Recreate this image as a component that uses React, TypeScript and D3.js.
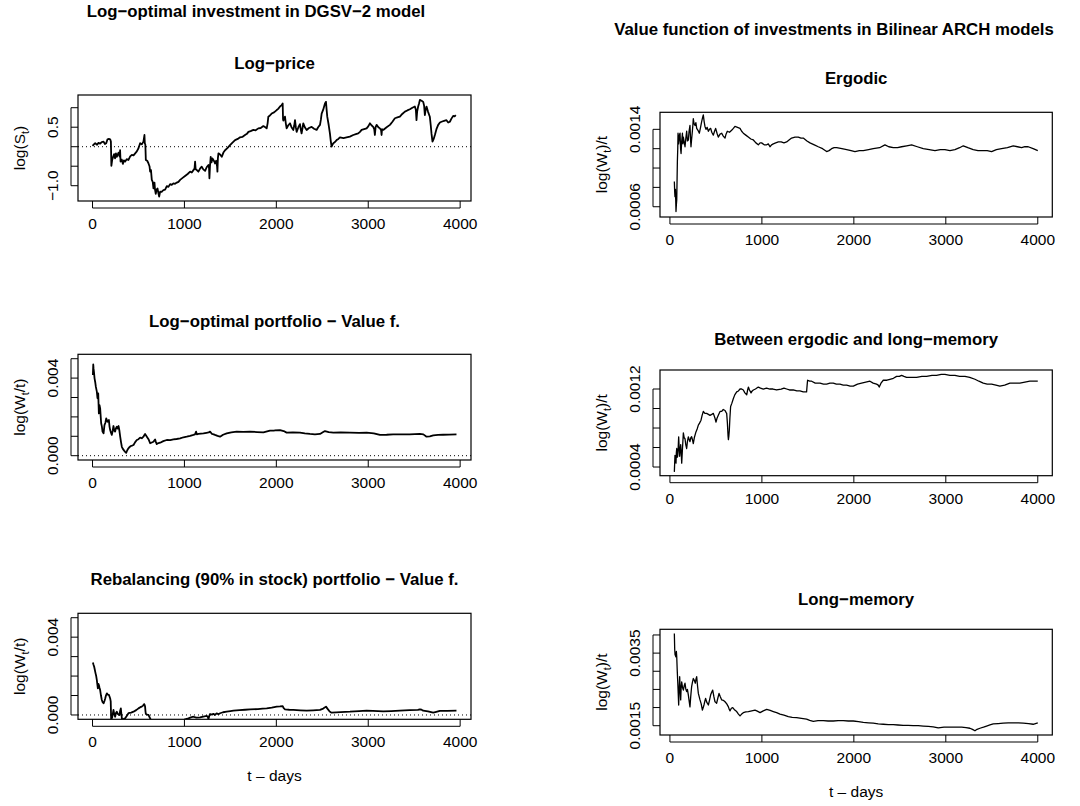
import React from "react";
import * as d3 from "d3";

// ---------- data ----------
// Log-price  [t, log(S_t)]
const logPrice: [number, number][] = [
  [0,0.02],[15,0.06],[29,0.09],[50,0.05],[65,0.1],[83,0.08],[100,0.12],[120,0.13],[135,0.07],[149,0.09],[163,0.19],[178,0.2],[192,0.19],[200,0.13],[205,-0.49],[214,-0.34],[225,-0.25],[235,-0.19],[245,-0.3],[255,-0.17],[264,-0.26],[283,-0.15],[295,-0.25],[300,-0.09],[305,-0.38],[318,-0.33],[330,-0.44],[342,-0.35],[355,-0.38],[372,-0.32],[391,-0.34],[410,-0.25],[428,-0.21],[446,-0.22],[464,-0.17],[482,-0.12],[500,-0.04],[518,0.09],[536,0.06],[554,0.13],[565,0.3],[569,0.09],[575,0.05],[580,-0.34],[595,-0.36],[609,-0.43],[620,-0.5],[627,-0.64],[636,-0.6],[645,-0.85],[655,-0.9],[663,-1.07],[674,-0.92],[680,-1.1],[688,-1.21],[697,-1.1],[707,-1.07],[716,-1.18],[725,-1.28],[736,-1.15],[752,-1.16],[772,-1.11],[790,-1.1],[808,-1.01],[826,-1.03],[844,-0.96],[862,-0.98],[880,-0.94],[898,-0.95],[917,-0.92],[935,-0.9],[953,-0.85],[980,-0.8],[1007,-0.75],[1035,-0.7],[1062,-0.64],[1080,-0.66],[1098,-0.6],[1110,-0.56],[1116,-0.38],[1122,-0.58],[1135,-0.6],[1152,-0.64],[1170,-0.56],[1188,-0.51],[1205,-0.58],[1225,-0.62],[1243,-0.52],[1261,-0.47],[1268,-0.55],[1272,-0.81],[1278,-0.5],[1286,-0.26],[1295,-0.4],[1305,-0.3],[1315,-0.34],[1325,-0.38],[1333,-0.43],[1345,-0.36],[1355,-0.5],[1359,-0.64],[1364,-0.3],[1370,-0.17],[1388,-0.2],[1406,-0.26],[1424,-0.15],[1442,-0.09],[1470,-0.03],[1496,0.04],[1520,0.1],[1551,0.17],[1580,0.2],[1605,0.24],[1630,0.25],[1659,0.3],[1680,0.33],[1696,0.38],[1720,0.4],[1750,0.43],[1775,0.42],[1804,0.47],[1830,0.48],[1859,0.53],[1880,0.5],[1895,0.47],[1905,0.6],[1913,0.77],[1930,0.8],[1949,0.85],[1975,0.88],[2004,0.94],[2020,0.97],[2040,1.03],[2055,1.06],[2069,1.11],[2073,0.7],[2076,0.67],[2085,0.72],[2094,0.77],[2103,0.6],[2112,0.47],[2130,0.55],[2149,0.6],[2165,0.5],[2185,0.43],[2195,0.55],[2203,0.68],[2212,0.5],[2221,0.38],[2240,0.5],[2257,0.58],[2265,0.45],[2275,0.34],[2285,0.48],[2293,0.6],[2310,0.5],[2330,0.43],[2355,0.48],[2384,0.51],[2410,0.46],[2438,0.43],[2455,0.5],[2475,0.56],[2485,0.7],[2493,0.85],[2510,0.95],[2529,1.11],[2540,1.15],[2547,0.95],[2554,0.77],[2570,0.55],[2583,0.34],[2592,0.15],[2601,0.0],[2610,0.05],[2620,0.09],[2638,0.12],[2656,0.17],[2675,0.2],[2692,0.24],[2730,0.22],[2764,0.24],[2800,0.26],[2837,0.3],[2865,0.32],[2891,0.34],[2910,0.38],[2928,0.43],[2955,0.45],[2982,0.47],[3000,0.52],[3018,0.6],[3035,0.55],[3054,0.51],[3065,0.45],[3072,0.3],[3080,0.5],[3091,0.56],[3110,0.5],[3127,0.47],[3140,0.42],[3145,0.3],[3150,0.45],[3163,0.43],[3200,0.5],[3236,0.56],[3263,0.64],[3290,0.73],[3317,0.75],[3344,0.77],[3370,0.84],[3399,0.9],[3425,0.93],[3453,0.96],[3480,1.0],[3507,1.03],[3518,0.95],[3525,0.68],[3532,0.9],[3543,1.03],[3552,1.1],[3562,1.2],[3580,1.18],[3598,1.15],[3608,1.05],[3616,0.81],[3625,0.95],[3634,1.03],[3650,0.9],[3670,0.77],[3680,0.55],[3688,0.34],[3699,0.13],[3712,0.2],[3725,0.3],[3742,0.45],[3761,0.56],[3780,0.62],[3797,0.64],[3825,0.66],[3851,0.68],[3870,0.62],[3888,0.64],[3905,0.72],[3924,0.79],[3940,0.78],[3953,0.81]
];

// Log-optimal portfolio value function  [t, log(W_t/t) in 1e-3]
const logOptimal: [number, number][] = [
  [4,4.16],[8,4.7],[11,4.5],[16,4.3],[22,3.99],[29,3.8],[36,3.56],[47,3.3],[54,2.96],[62,3.21],[69,2.18],[76,2.6],[83,2.44],[94,1.67],[102,1.5],[109,1.24],[120,1.15],[130,1.58],[140,1.7],[149,1.92],[163,1.75],[178,1.84],[185,1.5],[192,1.32],[200,1.2],[210,1.07],[220,1.3],[228,1.53],[236,1.3],[246,1.24],[255,1.42],[264,1.49],[273,1.4],[283,1.53],[292,1.3],[301,0.98],[310,0.7],[319,0.46],[330,0.35],[344,0.26],[355,0.2],[366,0.15],[378,0.28],[391,0.38],[404,0.45],[417,0.5],[430,0.52],[446,0.55],[464,0.7],[482,0.81],[500,0.85],[518,0.93],[536,0.9],[554,0.98],[563,1.05],[572,1.12],[581,1.05],[591,0.98],[609,0.85],[627,0.64],[645,0.68],[663,0.72],[672,0.78],[681,0.84],[690,0.7],[699,0.6],[718,0.65],[736,0.67],[770,0.75],[808,0.81],[845,0.8],[880,0.84],[915,0.86],[953,0.89],[990,0.95],[1025,0.98],[1062,1.02],[1098,1.07],[1115,1.1],[1127,1.24],[1135,1.1],[1152,1.12],[1180,1.14],[1207,1.15],[1240,1.18],[1265,1.2],[1279,1.24],[1300,1.12],[1318,1.1],[1333,1.07],[1360,1.02],[1388,0.98],[1420,1.08],[1460,1.15],[1510,1.2],[1569,1.24],[1640,1.23],[1714,1.24],[1790,1.22],[1859,1.2],[1900,1.25],[1931,1.29],[1980,1.3],[2040,1.32],[2080,1.27],[2112,1.19],[2180,1.2],[2257,1.19],[2310,1.15],[2366,1.12],[2420,1.1],[2475,1.12],[2510,1.22],[2529,1.27],[2570,1.22],[2620,1.19],[2700,1.2],[2801,1.19],[2900,1.18],[2982,1.19],[3060,1.15],[3127,1.07],[3200,1.08],[3270,1.1],[3344,1.1],[3450,1.1],[3562,1.12],[3600,1.1],[3634,0.98],[3670,1.0],[3707,1.05],[3760,1.07],[3815,1.08],[3880,1.09],[3960,1.1]
];

// Rebalancing (90% in stock) portfolio value function  [t, 1e-3]
const rebalancing: [number, number][] = [
  [4,2.7],[10,2.6],[18,2.48],[26,2.3],[33,2.14],[40,2.0],[47,1.79],[52,1.6],[58,1.37],[64,1.6],[69,1.54],[76,1.4],[83,1.28],[92,1.0],[101,0.77],[110,0.66],[120,0.6],[130,0.72],[138,0.85],[146,1.0],[156,1.11],[166,1.05],[178,1.03],[185,0.95],[192,0.85],[198,0.7],[203,-0.26],[215,-0.1],[228,0.26],[236,0.05],[246,-0.09],[255,0.1],[264,0.17],[275,0.05],[285,0.02],[293,0.0],[300,0.2],[308,0.34],[315,0.0],[322,-0.26],[340,-0.2],[355,-0.17],[372,-0.05],[391,0.09],[420,0.12],[446,0.17],[475,0.25],[500,0.34],[520,0.4],[536,0.43],[550,0.48],[562,0.56],[568,0.5],[572,0.43],[576,0.2],[580,0.05],[595,0.02],[609,0.0],[627,-0.17],[645,-0.43],[700,-0.6],[760,-0.7],[820,-0.65],[880,-0.55],[940,-0.42],[1007,-0.22],[1043,-0.17],[1070,-0.12],[1098,-0.09],[1130,-0.14],[1170,-0.12],[1205,-0.08],[1243,-0.05],[1255,-0.1],[1261,-0.22],[1270,-0.05],[1279,0.05],[1300,0.02],[1315,0.06],[1333,0.0],[1350,0.08],[1370,0.04],[1388,0.09],[1420,0.14],[1460,0.17],[1500,0.2],[1533,0.22],[1600,0.25],[1660,0.27],[1714,0.29],[1800,0.3],[1850,0.33],[1895,0.34],[1950,0.38],[2004,0.43],[2040,0.44],[2069,0.46],[2080,0.35],[2094,0.29],[2140,0.27],[2185,0.26],[2260,0.24],[2330,0.22],[2400,0.24],[2475,0.26],[2510,0.33],[2540,0.43],[2560,0.3],[2580,0.18],[2601,0.12],[2700,0.15],[2801,0.17],[2900,0.2],[2982,0.22],[3050,0.21],[3163,0.19],[3250,0.2],[3344,0.22],[3450,0.25],[3540,0.26],[3562,0.29],[3580,0.27],[3598,0.22],[3650,0.18],[3707,0.12],[3740,0.16],[3779,0.21],[3860,0.21],[3960,0.22]
];

// Bilinear ARCH: Ergodic  [t, log(W_t)/t in 1e-4]
const ergodic: [number, number][] = [
  [48,8.6],[52,7.5],[55,7.04],[60,7.8],[66,5.5],[70,6.2],[74,6.7],[78,9.0],[81,10.7],[85,12.0],[88,13.6],[94,12.5],[99,12.9],[105,13.5],[110,13.6],[116,12.0],[121,11.5],[128,12.8],[136,13.6],[141,12.5],[146,13.2],[155,12.7],[164,12.2],[172,13.0],[182,13.8],[190,12.8],[200,12.9],[208,13.8],[218,14.4],[224,13.0],[229,12.2],[236,13.0],[244,13.8],[250,14.5],[254,15.1],[262,14.6],[273,14.4],[282,14.7],[291,14.1],[305,13.9],[320,13.6],[333,14.2],[345,14.8],[355,15.2],[363,15.5],[372,14.8],[381,14.3],[392,14.0],[405,14.2],[418,13.8],[430,14.0],[443,14.1],[455,13.7],[472,13.4],[485,13.8],[497,14.1],[512,13.6],[526,13.2],[545,13.5],[563,13.6],[580,13.3],[599,13.1],[610,13.5],[624,13.8],[648,13.7],[671,13.9],[690,14.1],[707,14.3],[735,14.2],[762,14.1],[780,13.8],[798,13.6],[825,13.4],[852,13.2],[880,13.0],[907,12.9],[935,12.6],[961,12.4],[980,12.6],[997,12.6],[1025,12.4],[1052,12.4],[1070,12.5],[1088,12.2],[1105,12.4],[1124,12.5],[1150,12.6],[1179,12.7],[1210,12.7],[1240,12.6],[1269,12.7],[1295,12.9],[1323,13.1],[1360,13.2],[1396,13.2],[1425,13.1],[1450,13.1],[1490,12.8],[1523,12.6],[1570,12.4],[1613,12.2],[1660,12.0],[1704,11.7],[1730,11.8],[1758,12.0],[1785,12.1],[1813,12.1],[1870,12.0],[1922,11.9],[1970,11.8],[2012,11.7],[2060,11.8],[2103,11.8],[2160,11.9],[2211,12.0],[2280,12.1],[2338,12.4],[2380,12.2],[2429,12.1],[2475,12.1],[2519,12.2],[2575,12.3],[2628,12.4],[2690,12.2],[2755,12.0],[2820,11.9],[2882,11.8],[2940,11.9],[2990,11.9],[3045,11.8],[3099,11.9],[3150,12.1],[3190,12.3],[3240,12.1],[3298,11.9],[3350,11.8],[3407,11.8],[3450,11.8],[3498,11.7],[3550,11.9],[3606,12.0],[3670,12.1],[3733,12.3],[3780,12.2],[3824,12.1],[3860,12.2],[3896,12.2],[3950,12.0],[4000,11.8]
];

// Bilinear ARCH: Between ergodic and long-memory  [t, 1e-4]
const between: [number, number][] = [
  [48,3.5],[52,4.5],[55,5.2],[60,4.6],[66,4.4],[70,5.5],[74,5.9],[79,5.0],[84,5.1],[90,6.0],[95,7.1],[100,6.0],[106,5.1],[112,5.8],[117,6.3],[123,5.5],[128,4.4],[137,6.0],[146,7.5],[155,7.0],[164,6.9],[172,6.3],[182,5.9],[190,6.6],[200,7.1],[210,6.8],[218,6.6],[227,7.0],[236,7.1],[245,6.8],[254,6.4],[265,7.0],[283,7.6],[296,7.9],[309,8.3],[322,8.5],[338,8.8],[350,9.3],[363,9.7],[380,9.5],[399,9.5],[418,9.4],[436,9.3],[455,9.4],[472,9.5],[490,9.0],[501,8.6],[512,9.0],[526,9.3],[545,9.7],[563,9.7],[580,9.9],[599,9.8],[610,9.6],[617,9.5],[625,8.5],[632,7.2],[636,6.8],[641,7.2],[646,7.8],[652,9.0],[660,10.2],[672,10.5],[689,11.0],[705,11.4],[726,11.7],[745,11.8],[762,12.0],[780,12.0],[798,11.9],[815,11.6],[835,11.4],[845,11.9],[853,12.2],[865,11.9],[882,11.6],[895,11.8],[907,11.9],[930,12.0],[961,12.2],[985,12.1],[1015,12.0],[1050,12.1],[1088,12.0],[1120,12.0],[1160,11.9],[1210,12.0],[1240,12.1],[1269,12.0],[1300,11.9],[1341,11.9],[1380,11.8],[1414,11.8],[1450,11.7],[1486,11.7],[1492,12.4],[1497,12.9],[1520,12.8],[1541,12.8],[1580,12.6],[1632,12.6],[1670,12.5],[1704,12.5],[1740,12.6],[1776,12.6],[1810,12.5],[1849,12.5],[1885,12.4],[1921,12.4],[1960,12.3],[1994,12.3],[2040,12.5],[2084,12.6],[2130,12.7],[2175,12.8],[2210,12.6],[2247,12.5],[2265,12.4],[2276,12.2],[2295,12.6],[2320,12.9],[2360,12.9],[2392,13.0],[2430,13.1],[2465,13.3],[2495,13.3],[2519,13.4],[2545,13.3],[2573,13.2],[2630,13.2],[2682,13.2],[2740,13.3],[2791,13.3],[2850,13.4],[2899,13.4],[2950,13.5],[2990,13.5],[3045,13.4],[3099,13.4],[3150,13.3],[3208,13.3],[3260,13.2],[3317,13.0],[3360,12.8],[3407,12.6],[3450,12.5],[3498,12.5],[3545,12.4],[3588,12.3],[3640,12.4],[3697,12.6],[3750,12.6],[3805,12.6],[3860,12.7],[3914,12.8],[3960,12.8],[4000,12.8]
];

// Bilinear ARCH: Long-memory  [t, 1e-4]
const longMemory: [number, number][] = [
  [48,40.4],[52,36.0],[56,34.5],[59,34.5],[64,34.0],[70,35.5],[74,34.0],[79,30.5],[84,27.6],[90,24.0],[95,20.7],[100,25.0],[106,28.5],[112,24.5],[117,22.1],[122,25.5],[128,27.1],[137,25.5],[146,24.8],[155,26.0],[164,26.7],[172,25.2],[182,24.4],[190,25.0],[200,23.5],[208,22.0],[218,20.2],[226,23.0],[236,25.8],[245,27.0],[254,28.0],[265,27.5],[276,26.7],[283,27.8],[291,28.5],[300,26.0],[309,23.9],[318,23.0],[327,22.1],[340,21.0],[353,19.3],[362,20.0],[370,20.7],[380,21.8],[388,22.5],[400,21.5],[418,20.7],[430,22.0],[443,23.5],[455,24.3],[465,24.8],[478,23.0],[490,21.6],[500,21.4],[508,21.2],[520,22.5],[534,23.9],[548,23.0],[563,22.1],[580,22.0],[599,21.6],[618,21.0],[636,20.2],[645,19.5],[654,19.1],[668,19.8],[683,20.0],[705,19.3],[726,18.9],[745,18.2],[762,17.7],[780,18.2],[798,18.6],[825,18.8],[853,18.9],[890,19.1],[925,19.3],[950,19.0],[980,18.6],[1015,19.1],[1052,19.5],[1090,19.2],[1124,18.9],[1160,18.6],[1197,18.2],[1240,17.9],[1287,17.5],[1330,17.3],[1378,17.2],[1430,17.0],[1486,16.8],[1520,16.5],[1559,16.2],[1610,16.4],[1668,16.4],[1720,16.3],[1776,16.3],[1830,16.4],[1885,16.4],[1940,16.3],[1994,16.3],[2050,16.1],[2103,15.9],[2160,15.8],[2211,15.7],[2265,15.5],[2320,15.4],[2375,15.3],[2429,15.3],[2480,15.2],[2537,15.1],[2590,15.1],[2646,15.0],[2700,15.0],[2755,14.9],[2810,14.8],[2863,14.7],[2918,14.4],[2980,14.6],[3045,14.6],[3110,14.6],[3172,14.6],[3220,14.5],[3262,14.3],[3290,14.0],[3317,13.6],[3340,14.0],[3371,14.3],[3410,14.6],[3443,14.9],[3480,15.2],[3516,15.5],[3570,15.6],[3624,15.7],[3680,15.8],[3733,15.8],[3790,15.8],[3842,15.7],[3900,15.6],[3950,15.4],[4000,15.8]
];

// Axis ticks and labels
const xTicks = [0, 1000, 2000, 3000, 4000];
const logPriceTicks = [-1, -0.5, 0, 0.5, 1];
const logPriceLabels: [number, string][] = [[0.5, "0.5"], [-1, "\u22121.0"]];
const valueTicks = [0, 1, 2, 3, 4, 5];
const valueLabels: [number, string][] = [[4, "0.004"], [0, "0.000"]];
const ergodicTicks = [6, 8, 10, 12, 14];
const ergodicLabels: [number, string][] = [[14, "0.0014"], [6, "0.0006"]];
const betweenTicks = [4, 6, 8, 10, 12];
const betweenLabels: [number, string][] = [[12, "0.0012"], [4, "0.0004"]];
const longTicks = [15, 20, 25, 30, 35, 40];
const longLabels: [number, string][] = [[35, "0.0035"], [15, "0.0015"]];

const FONT = "'Liberation Sans', Arial, Helvetica, sans-serif";

type PanelDef = {
  id: string;
  data: [number, number][];
  box: { l: number; r: number; t: number; b: number };
  xDomain: [number, number];
  yDomain: [number, number];
  yTicks: number[];
  yLabels: [number, string][];
  title: string;
  titleY: number;
  ylab: "S" | "Wt" | "W";
  zeroLine: boolean;
  xlab: boolean;
  lw: number;
};

const LX: [number, number] = [-158, 4118];
const RX: [number, number] = [-108, 4158];
const LB = { l: 78, r: 471 };
const RB = { l: 660, r: 1052.3 };

const panels: PanelDef[] = [
  { id: "p1", data: logPrice, box: { ...LB, t: 95, b: 201 }, xDomain: LX, yDomain: [-1.392, 1.326], yTicks: logPriceTicks, yLabels: logPriceLabels, title: "Log\u2212price", titleY: 69, ylab: "S", zeroLine: true, xlab: false, lw: 1.8 },
  { id: "p2", data: logOptimal, box: { ...LB, t: 354.3, b: 460 }, xDomain: LX, yDomain: [-0.222, 5.227], yTicks: valueTicks, yLabels: valueLabels, title: "Log\u2212optimal portfolio \u2212 Value f.", titleY: 327, ylab: "Wt", zeroLine: true, xlab: false, lw: 1.8 },
  { id: "p3", data: rebalancing, box: { ...LB, t: 613.3, b: 719.3 }, xDomain: LX, yDomain: [-0.222, 5.227], yTicks: valueTicks, yLabels: valueLabels, title: "Rebalancing (90% in stock) portfolio \u2212 Value f.", titleY: 585, ylab: "Wt", zeroLine: true, xlab: true, lw: 1.8 },
  { id: "p4", data: ergodic, box: { ...RB, t: 112.3, b: 217 }, xDomain: RX, yDomain: [4.94, 15.76], yTicks: ergodicTicks, yLabels: ergodicLabels, title: "Ergodic", titleY: 84, ylab: "W", zeroLine: false, xlab: false, lw: 1.3 },
  { id: "p5", data: between, box: { ...RB, t: 370, b: 475.7 }, xDomain: RX, yDomain: [3.11, 13.95], yTicks: betweenTicks, yLabels: betweenLabels, title: "Between ergodic and long\u2212memory", titleY: 345, ylab: "W", zeroLine: false, xlab: false, lw: 1.3 },
  { id: "p6", data: longMemory, box: { ...RB, t: 629.3, b: 735 }, xDomain: RX, yDomain: [12.44, 41.56], yTicks: longTicks, yLabels: longLabels, title: "Long\u2212memory", titleY: 605, ylab: "W", zeroLine: false, xlab: true, lw: 1.3 },
];

const TICK_FS = 15.5;
const TITLE_FS = 16.8;

function YLab({ kind, x, y }: { kind: string; x: number; y: number }) {
  const sub = { fontSize: 11 };
  let content: React.ReactNode;
  if (kind === "S") {
    content = (<>log(S<tspan dy={4} style={sub}>t</tspan><tspan dy={-4}>)</tspan></>);
  } else if (kind === "Wt") {
    content = (<>log(W<tspan dy={4} style={sub}>t</tspan><tspan dy={-4}>/t)</tspan></>);
  } else {
    content = (<>log(W<tspan dy={4} style={sub}>t</tspan><tspan dy={-4}>)/t</tspan></>);
  }
  return (
    <text transform={`translate(${x},${y}) rotate(-90)`} textAnchor="middle" fontSize={TICK_FS} fontFamily={FONT}>
      {content}
    </text>
  );
}

function Panel({ p }: { p: PanelDef }) {
  const { box } = p;
  const x = d3.scaleLinear().domain(p.xDomain).range([box.l, box.r]);
  const y = d3.scaleLinear().domain(p.yDomain).range([box.b, box.t]);
  const line = d3.line<[number, number]>().x((d) => x(d[0])).y((d) => y(d[1]));
  const cx = (box.l + box.r) / 2;
  const cy = (box.t + box.b) / 2;
  const tickLen = 7;
  return (
    <g>
      <defs>
        <clipPath id={`clip-${p.id}`}>
          <rect x={box.l} y={box.t} width={box.r - box.l} height={box.b - box.t} />
        </clipPath>
      </defs>
      <text x={cx} y={p.titleY} textAnchor="middle" fontWeight="bold" fontSize={TITLE_FS} fontFamily={FONT}>
        {p.title}
      </text>
      {p.zeroLine && (
        <line x1={box.l} x2={box.r} y1={y(0)} y2={y(0)} stroke="#000" strokeWidth={1} strokeDasharray="1,3" />
      )}
      <path d={line(p.data) || ""} fill="none" stroke="#000" strokeWidth={p.lw} strokeLinejoin="round" clipPath={`url(#clip-${p.id})`} />
      <rect x={box.l} y={box.t} width={box.r - box.l} height={box.b - box.t} fill="none" stroke="#000" strokeWidth={1.2} />
      {/* x axis */}
      <line x1={x(xTicks[0])} x2={x(xTicks[xTicks.length - 1])} y1={box.b + tickLen} y2={box.b + tickLen} stroke="#000" strokeWidth={1} />
      {xTicks.map((t) => (
        <g key={t}>
          <line x1={x(t)} x2={x(t)} y1={box.b + tickLen} y2={box.b} stroke="#000" strokeWidth={1} />
          <text x={x(t)} y={box.b + 28} textAnchor="middle" fontSize={TICK_FS} fontFamily={FONT}>
            {t}
          </text>
        </g>
      ))}
      {/* y axis */}
      <line x1={box.l - tickLen} x2={box.l - tickLen} y1={y(p.yTicks[0])} y2={y(p.yTicks[p.yTicks.length - 1])} stroke="#000" strokeWidth={1} />
      {p.yTicks.map((t) => (
        <line key={t} x1={box.l - tickLen} x2={box.l} y1={y(t)} y2={y(t)} stroke="#000" strokeWidth={1} />
      ))}
      {p.yLabels.map(([v, s]) => (
        <text key={s} transform={`translate(${box.l - 20},${y(v)}) rotate(-90)`} textAnchor="middle" fontSize={TICK_FS} fontFamily={FONT}>
          {s}
        </text>
      ))}
      <YLab kind={p.ylab} x={box.l - 53} y={cy} />
      {p.xlab && (
        <text x={cx} y={box.b + 62} textAnchor="middle" fontSize={TICK_FS} fontFamily={FONT}>
          t – days
        </text>
      )}
    </g>
  );
}

export default function App() {
  return (
    <svg width={1080} height={806} style={{ position: "absolute", left: 0, top: 0, background: "#fff" }}>
      <rect x={0} y={0} width={1080} height={806} fill="#fff" />
      <text x={256} y={17} textAnchor="middle" fontWeight="bold" fontSize={TITLE_FS} fontFamily={FONT}>
        Log−optimal investment in DGSV−2 model
      </text>
      <text x={834} y={35} textAnchor="middle" fontWeight="bold" fontSize={TITLE_FS} fontFamily={FONT}>
        Value function of investments in Bilinear ARCH models
      </text>
      {panels.map((p) => (
        <Panel key={p.id} p={p} />
      ))}
    </svg>
  );
}
